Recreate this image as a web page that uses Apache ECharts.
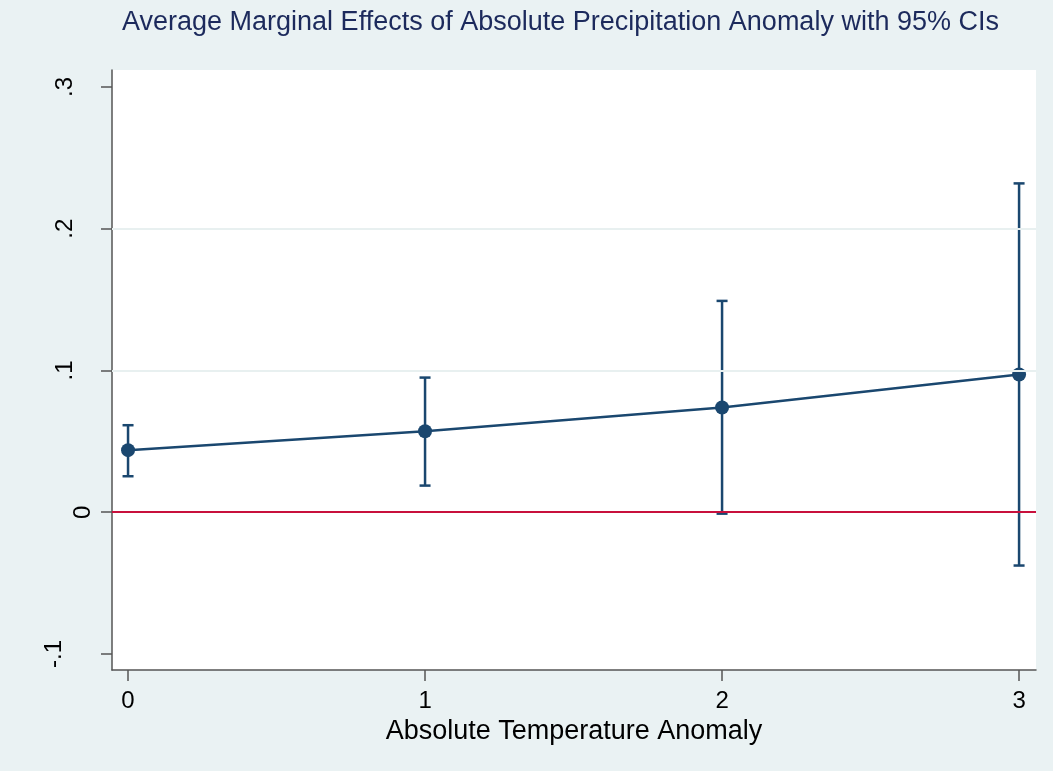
<!DOCTYPE html>
<html><head><meta charset="utf-8">
<script src="https://cdn.jsdelivr.net/npm/echarts@6/dist/echarts.min.js"></script>
<style>html,body{margin:0;padding:0;background:#eaf2f3}#c{width:1053px;height:771px}</style>
</head><body><div id="c"></div>
<script>
// ---- data ----
const xValues = [0, 1, 2, 3];
const margEffect = [0.0438, 0.0571, 0.0739, 0.0972];
const ciLower = [0.0254, 0.0188, -0.0010, -0.0376];
const ciUpper = [0.0614, 0.0950, 0.1491, 0.2320];
const xTicks = [0, 1, 2, 3];
const xTickLabels = ['0', '1', '2', '3'];
const yTicks = [-0.1, 0, 0.1, 0.2, 0.3];
const yTickLabels = ['-.1', '0', '.1', '.2', '.3'];
const gridValues = [0.1, 0.2];
const refValue = 0;
const titleText = 'Average Marginal Effects of Absolute Precipitation Anomaly with 95% CIs';
const xTitle = 'Absolute Temperature Anomaly';

// ---- styles ----
const FONT = "'Liberation Sans', Arial, Helvetica, sans-serif";
const NAVY = '#1a476f';
const AXIS = '#555555';

function labelFor(v, ticks) {
  for (let i = 0; i < ticks.length; i++) if (Math.abs(ticks[i] - v) < 1e-9) return i;
  return -1;
}
const yRichKey = {'-.1': 'c', '0': 'a', '.1': 'b', '.2': 'b', '.3': 'b'};

const chart = echarts.init(document.getElementById('c'), null, {renderer: 'canvas'});
chart.setOption({
  animation: false,
  backgroundColor: '#eaf2f3',
  textStyle: {fontFamily: FONT},
  title: {
    text: titleText,
    left: 117, top: 4,
    textStyle: {fontFamily: FONT, fontSize: 27, fontWeight: 'normal', color: '#1c2a5c'}
  },
  grid: {
    left: 112, top: 70, width: 924, height: 600,
    show: true, backgroundColor: '#ffffff', borderWidth: 0
  },
  xAxis: {
    type: 'value', min: -0.054, max: 3.057,
    name: xTitle, nameLocation: 'middle', nameGap: 37,
    nameTextStyle: {fontFamily: FONT, fontSize: 27, color: '#000'},
    axisLine: {onZero: false, lineStyle: {color: AXIS, width: 1.5}},
    axisTick: {show: true, length: 11, customValues: xTicks, lineStyle: {color: AXIS, width: 1.5}},
    axisLabel: {
      customValues: xTicks, margin: 19, fontSize: 24, color: '#000', fontFamily: FONT,
      formatter: v => { const i = labelFor(v, xTicks); return i >= 0 ? xTickLabels[i] : ''; }
    },
    splitLine: {show: false}
  },
  yAxis: {
    type: 'value', min: -0.1113, max: 0.312,
    axisLine: {show: true, onZero: false, lineStyle: {color: AXIS, width: 1.5}},
    axisTick: {show: true, length: 11, customValues: yTicks, lineStyle: {color: AXIS, width: 1.5}},
    axisLabel: {
      customValues: yTicks, rotate: 90, margin: 17, fontSize: 24, color: '#000', fontFamily: FONT,
      formatter: v => {
        const i = labelFor(v, yTicks);
        if (i < 0) return '';
        const t = yTickLabels[i];
        return '{' + yRichKey[t] + '|' + t + '}';
      },
      rich: {
        a: {fontSize: 24, fontFamily: FONT, color: '#000', padding: [0, 0, 0, 0]},
        b: {fontSize: 24, fontFamily: FONT, color: '#000', padding: [0, 0, 18, 0]},
        c: {fontSize: 24, fontFamily: FONT, color: '#000', padding: [0, 0, 29, 0]}
      }
    },
    splitLine: {show: false}
  },
  series: [
    {
      type: 'line', data: [], z: 1, silent: true,
      markLine: {
        silent: true, symbol: 'none', label: {show: false}, animation: false,
        lineStyle: {color: '#e8f0f0', width: 2, type: 'solid'},
        data: gridValues.map(v => ({yAxis: v}))
      }
    },
    {
      type: 'line', data: [], z: 2, silent: true,
      markLine: {
        silent: true, symbol: 'none', label: {show: false}, animation: false,
        lineStyle: {color: '#c8103c', width: 2, type: 'solid'},
        data: [{yAxis: refValue}]
      }
    },
    {
      type: 'custom', z: 3, silent: true,
      data: xValues.map((x, i) => [x, ciLower[i], ciUpper[i]]),
      encode: {x: 0, y: [1, 2]},
      renderItem: (params, api) => {
        const x = api.value(0), lo = api.value(1), hi = api.value(2);
        const pLo = api.coord([x, lo]), pHi = api.coord([x, hi]);
        const hw = 5.5;
        const style = {stroke: NAVY, lineWidth: 2.5};
        return {type: 'group', children: [
          {type: 'line', shape: {x1: pLo[0], y1: pLo[1], x2: pHi[0], y2: pHi[1]}, style},
          {type: 'line', shape: {x1: pLo[0] - hw, y1: pLo[1], x2: pLo[0] + hw, y2: pLo[1]}, style},
          {type: 'line', shape: {x1: pHi[0] - hw, y1: pHi[1], x2: pHi[0] + hw, y2: pHi[1]}, style}
        ]};
      }
    },
    {
      type: 'line', z: 4, silent: true,
      data: xValues.map((x, i) => [x, margEffect[i]]),
      symbol: 'circle', symbolSize: 14, showSymbol: true,
      lineStyle: {color: NAVY, width: 2.5},
      itemStyle: {color: NAVY, borderWidth: 0}
    }
  ]
});
</script>
</body></html>
